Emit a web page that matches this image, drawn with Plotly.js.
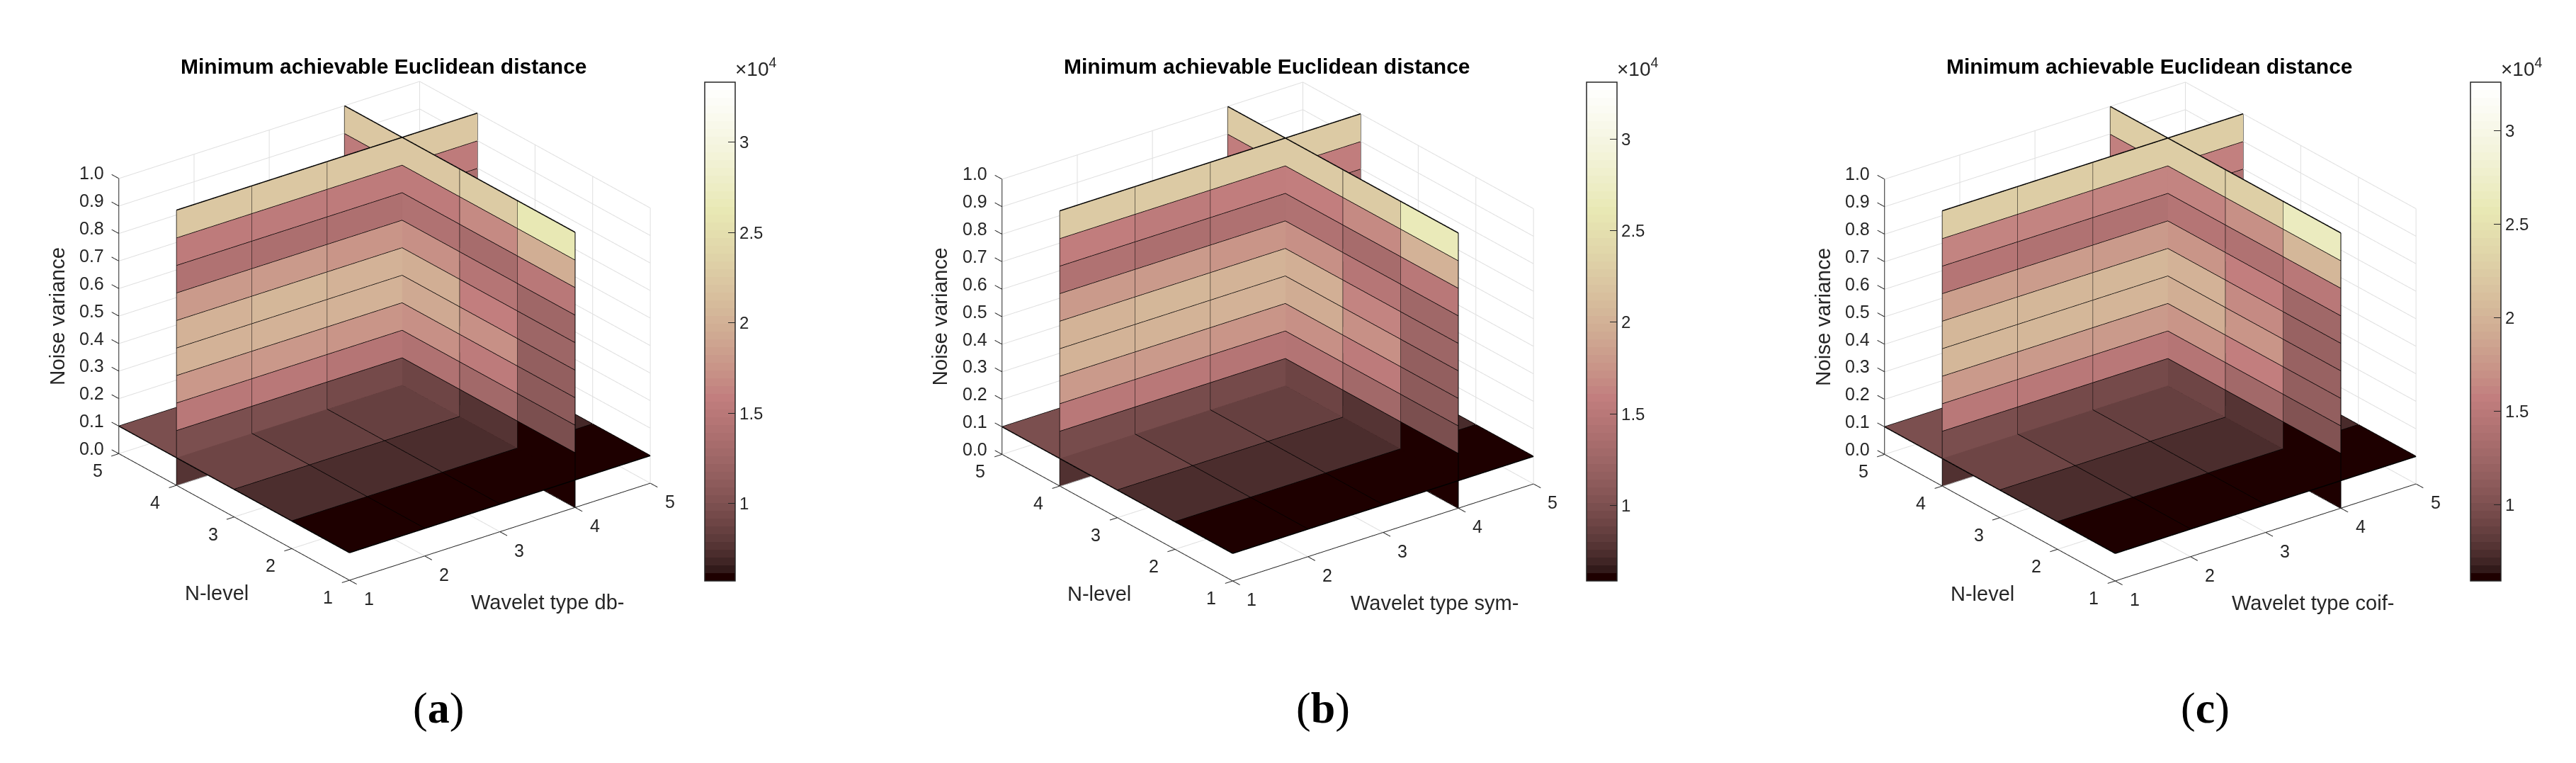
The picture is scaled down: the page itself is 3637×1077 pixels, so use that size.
<!DOCTYPE html>
<html><head><meta charset="utf-8">
<script src="https://cdn.plot.ly/plotly-3.0.1.min.js"></script>
<style>html,body{margin:0;padding:0;background:#fff}#chart{width:3637px;height:1077px}</style>
</head><body><div id="chart"></div>
<script>
// ---------- data (values in units of 1e3) ----------
const xTicks=[1,2,3,4,5], yTicks=[1,2,3,4,5];
const zTicks=[0,0.1,0.2,0.3,0.4,0.5,0.6,0.7,0.8,0.9,1.0];
const zTickText=['0.0','0.1','0.2','0.3','0.4','0.5','0.6','0.7','0.8','0.9','1.0'];
const cbarTicks=[10000,15000,20000,25000,30000];
const cbarText=['1','1.5','2','2.5','3'];
const panelNames=['db-','sym-','coif-'];
const panelLabels=['a','b','c'];
const cRanges=[[5714,33333],[5890,33100],[5920,32600]];
// y = 4 plane: one list per x cell (1-2,2-3,3-4,4-5), z cells bottom to top
const dbPlaneY=[[7.6,9.8,15.0,17.8,20.0,20.2,18.0,14.1,15.6,22.3],[7.6,9.8,15.0,17.8,20.0,20.4,17.9,13.8,15.4,22.3],[7.4,9.5,14.6,17.6,19.9,20.2,17.6,13.9,15.6,22.3],[7.4,9.5,14.6,17.4,19.8,19.9,17.5,13.7,15.6,22.3]];
const symPlaneY=[[7.6,9.7,15.1,17.9,20.2,20.2,18.1,14.1,15.7,22.4],[7.6,9.7,15.1,17.9,20.2,20.3,18.0,13.9,15.5,22.4],[7.5,9.5,14.7,17.7,20.1,20.2,17.7,14.0,15.7,22.4],[7.5,9.5,14.7,17.5,19.9,19.9,17.6,13.8,15.7,22.4]];
const coifPlaneY=[[7.6,9.7,15.0,17.9,20.1,20.2,18.1,14.3,16.0,22.5],[7.6,9.6,15.0,17.9,20.1,20.2,18.0,14.2,16.0,22.5],[7.5,9.5,14.8,17.8,20.0,20.1,17.8,14.1,16.0,22.5],[7.5,9.5,14.8,17.6,19.9,20.0,17.7,14.0,15.9,22.5]];
// x = 4 plane: one list per y cell (1-2,2-3,3-4,4-5), z cells bottom to top
const dbPlaneX=[[5.8,5.9,9.8,11.0,11.5,12.3,12.6,15.0,19.8,26.2],[5.9,7.6,12.9,15.4,17.0,15.9,14.6,13.3,16.6,22.5],[6.6,8.8,14.3,17.0,19.3,19.6,17.0,14.0,15.6,22.3],[7.4,9.5,14.6,17.4,19.8,20.0,17.5,13.8,15.5,22.3]];
const symPlaneX=[[5.9,6.1,10.0,11.2,11.7,12.4,12.7,15.2,20.0,26.4],[6.0,7.7,13.0,15.5,17.2,16.2,14.8,13.4,16.8,22.6],[6.7,8.9,14.4,17.2,19.5,19.8,17.2,14.1,15.9,22.4],[7.5,9.5,14.7,17.5,19.9,20.1,17.6,13.9,15.7,22.4]];
const coifPlaneX=[[6.0,6.1,10.3,11.4,11.8,12.0,12.6,15.0,20.1,26.3],[6.0,7.7,12.9,15.7,17.4,16.6,15.6,14.0,17.0,22.6],[6.7,8.9,14.5,17.3,19.4,19.7,17.3,14.3,16.1,22.5],[7.5,9.5,14.8,17.6,19.9,20.0,17.7,14.0,15.9,22.5]];
// z = 0.1 plane: one list per y cell (1-2,...,4-5), x cells left to right
const dbFloor=[[5.9,5.9,5.9,5.9],[7.4,7.3,7.2,7.0],[8.9,8.6,8.5,8.3],[9.9,9.8,9.6,9.5]];
const symFloor=[[6.0,6.0,6.0,6.0],[7.5,7.4,7.3,7.2],[8.9,8.7,8.6,8.4],[9.9,9.8,9.6,9.5]];
const coifFloor=[[6.0,6.0,6.0,6.0],[7.5,7.4,7.3,7.2],[8.9,8.7,8.6,8.4],[9.9,9.8,9.6,9.5]];

const planeYs=[dbPlaneY,symPlaneY,coifPlaneY], planeXs=[dbPlaneX,symPlaneX,coifPlaneX], floors=[dbFloor,symFloor,coifFloor];
const sliceX=4, sliceY=4, sliceZ=0.1;
// ---------- style and layout ----------
const W=3637,H=1077, INK='#262626', GRID='#dfdfdf', FONT='"Liberation Sans", Arial, sans-serif';
const sceneW=1040, sceneH=800, EYE=[-0.552,-0.72,0.4206], EYE_K=1.75, ZOOM=1.338;
const centers=[[543,467],[1789.5,468],[3036,468]];
const cbarLeft=[995,2240,3488], titleX=[542,1789,3035], sublabel=[[619,999],[1868,999],[3113,999]];
// MATLAB "pink" colormap, 64 levels, as stepped colorscale
function pink(m){const n=Math.floor(3*m/8),out=[];
  for(let i=0;i<m;i++){const g=i/(m-1);
    const hr=Math.min(1,(i+1)/n),hg=Math.max(0,Math.min(1,(i+1-n)/n)),hb=Math.max(0,(i+1-2*n)/(m-2*n));
    const f=h=>Math.round(255*Math.sqrt((2*g+h)/3));
    const c=`rgb(${f(hr)},${f(hg)},${f(hb)})`;
    out.push([i/m,c],[(i+1)/m,c]);}
  return out;}
const pinkScale=pink(64);

function meshFor(p){
  const xs=[],ys=[],zs=[],I=[],J=[],K=[],C=[];
  function quad(a,b,c,d,v){const n=xs.length;[a,b,c,d].forEach(q=>{xs.push(q[0]);ys.push(q[1]);zs.push(q[2]);});
    I.push(n,n);J.push(n+1,n+2);K.push(n+2,n+3);C.push(v*1000,v*1000);}
  for(let a=0;a<4;a++)for(let b=0;b<10;b++){
    const z0=zTicks[b],z1=zTicks[b+1];
    quad([xTicks[a],sliceY,z0],[xTicks[a+1],sliceY,z0],[xTicks[a+1],sliceY,z1],[xTicks[a],sliceY,z1],planeYs[p][a][b]);
    quad([sliceX,yTicks[a],z0],[sliceX,yTicks[a+1],z0],[sliceX,yTicks[a+1],z1],[sliceX,yTicks[a],z1],planeXs[p][a][b]);
  }
  for(let r=0;r<4;r++)for(let a=0;a<4;a++)
    quad([xTicks[a],yTicks[r],sliceZ],[xTicks[a+1],yTicks[r],sliceZ],[xTicks[a+1],yTicks[r+1],sliceZ],[xTicks[a],yTicks[r+1],sliceZ],floors[p][r][a]);
  return {type:'mesh3d',scene:p?'scene'+(p+1):'scene',x:xs,y:ys,z:zs,i:I,j:J,k:K,intensity:C,intensitymode:'cell',
    colorscale:pinkScale,cmin:cRanges[p][0],cmax:cRanges[p][1],flatshading:true,hoverinfo:'skip',
    lighting:{ambient:1,diffuse:0,specular:0,fresnel:0,roughness:1},
    colorbar:{x:cbarLeft[p]/W,xanchor:'left',xpad:0,ypad:0,y:1-(116+352)/H,yanchor:'middle',thickness:43,thicknessmode:'pixels',len:704,lenmode:'pixels',
      tickmode:'array',tickvals:cbarTicks,ticktext:cbarText,ticks:'inside',ticklen:10,tickcolor:INK,tickwidth:1,outlinecolor:INK,outlinewidth:1.5,
      tickfont:{family:FONT,size:24,color:INK},ticklabelposition:'outside'}};
}
function segs(list,color,width,p){
  const x=[],y=[],z=[];list.forEach(s=>{x.push(s[0][0],s[1][0],null);y.push(s[0][1],s[1][1],null);z.push(s[0][2],s[1][2],null);});
  return {type:'scatter3d',mode:'lines',scene:p?'scene'+(p+1):'scene',x,y,z,line:{color,width},hoverinfo:'skip',showlegend:false,connectgaps:false};
}
function gridSegs(){const s=[];const x0=xTicks[0],x1=xTicks[4],y0=yTicks[0],y1=yTicks[4];
  xTicks.forEach(v=>{s.push([[v,y1,0],[v,y1,1]]);s.push([[v,y0,0],[v,y1,0]]);});
  yTicks.forEach(v=>{s.push([[x1,v,0],[x1,v,1]]);s.push([[x0,v,0],[x1,v,0]]);});
  zTicks.forEach(v=>{s.push([[x0,y1,v],[x1,y1,v]]);s.push([[x1,y0,v],[x1,y1,v]]);});
  return s;}
function axisSegs(){const s=[];const x0=xTicks[0],x1=xTicks[4],y0=yTicks[0],y1=yTicks[4];
  s.push([[x0,y0,0],[x1,y0,0]],[[x0,y0,0],[x0,y1,0]],[[x0,y1,0],[x0,y1,1]]);
  xTicks.forEach(v=>s.push([[v,y0,0],[v,y0-0.125,0]]));
  yTicks.forEach(v=>s.push([[x0,v,0],[x0-0.1,v,0]]));
  zTicks.forEach(v=>s.push([[x0,y1,v],[x0,y1+0.125,v]]));
  return s;}
function edgeUpright(){const s=[];
  xTicks.forEach(v=>s.push([[v,sliceY,0],[v,sliceY,1]]));
  yTicks.forEach(v=>s.push([[sliceX,v,0],[sliceX,v,1]]));
  return s;}
function edgeFlat(){const s=[];
  xTicks.forEach(v=>s.push([[v,yTicks[0],sliceZ],[v,yTicks[4],sliceZ]]));
  yTicks.forEach(v=>s.push([[xTicks[0],v,sliceZ],[xTicks[4],v,sliceZ]]));
  zTicks.forEach(v=>{s.push([[xTicks[0],sliceY,v],[xTicks[4],sliceY,v]]);s.push([[sliceX,yTicks[0],v],[sliceX,yTicks[4],v]]);});
  return s;}
const hiddenAxis=r=>({visible:false,range:r,showgrid:false,zeroline:false,showticklabels:false,showspikes:false,title:{text:''}});
function txt(x,y,z,text,dx,dy,size,extra){return Object.assign({x,y,z,text,showarrow:false,xanchor:'center',yanchor:'middle',xshift:dx,yshift:-dy,font:{family:FONT,size,color:INK}},extra||{});}
function sceneFor(p){
  const c=centers[p];
  const ann=[];
  xTicks.forEach(v=>ann.push(txt(v,yTicks[0],0,String(v),27.5,26,25)));
  yTicks.forEach(v=>ann.push(txt(xTicks[0],v,0,String(v),-30,24,25)));
  zTicks.forEach((v,i)=>ann.push(txt(xTicks[0],yTicks[4],v,zTickText[i],-38,-7.5,25)));
  ann.push(txt(1,3,0,'N-level',-25,107,29));
  ann.push(txt(3,1,0,'Wavelet type '+panelNames[p],[68,73,67][p],99,29));
  ann.push(txt(1,5,0.5,'Noise variance',-88,0,29.5,{textangle:-90}));
  return {domain:{x:[(c[0]-sceneW/2)/W,(c[0]+sceneW/2)/W],y:[1-(c[1]+sceneH/2)/H,1-(c[1]-sceneH/2)/H]},
    aspectmode:'manual',aspectratio:{x:1.1*ZOOM,y:1.1*ZOOM,z:0.8*ZOOM},
    xaxis:hiddenAxis([0.8,5.2]),yaxis:hiddenAxis([0.8,5.2]),zaxis:hiddenAxis([0,1]),
    camera:{projection:{type:'orthographic'},up:{x:0,y:0,z:1},center:{x:0,y:0,z:0},eye:{x:EYE[0]*EYE_K,y:EYE[1]*EYE_K,z:EYE[2]*EYE_K}},
    annotations:ann};
}
const traces=[],layout={width:W,height:H,autosize:false,margin:{l:0,r:0,t:0,b:0},paper_bgcolor:'#fff',showlegend:false,annotations:[]};
const para=(px,py,text,size,color,fam)=>({xref:'paper',yref:'paper',x:px/W,y:1-py/H,text,showarrow:false,xanchor:'center',yanchor:'middle',font:{family:fam||FONT,size,color:color||INK}});
[0,1,2].forEach(p=>{
  traces.push(segs(gridSegs(),GRID,2,p));
  traces.push(Object.assign(meshFor(p),{showscale:true}));
  traces.push(segs(edgeUpright(),'#000',2,p));
  traces.push(segs(edgeFlat(),'#000',3,p));
  traces.push(segs(axisSegs(),INK,2,p));
  layout[p?'scene'+(p+1):'scene']=sceneFor(p);
  layout.annotations.push(para(titleX[p],93,'<b>Minimum achievable Euclidean distance</b>',30,'#000'));
  layout.annotations.push(para(cbarLeft[p]+72,95,'×10<sup>4</sup>',28));
  layout.annotations.push(para(sublabel[p][0],sublabel[p][1],'(<b>'+panelLabels[p]+'</b>)',62,'#000','"Liberation Serif", serif'));
});
Plotly.newPlot('chart',traces,layout,{displayModeBar:false});
</script></body></html>
